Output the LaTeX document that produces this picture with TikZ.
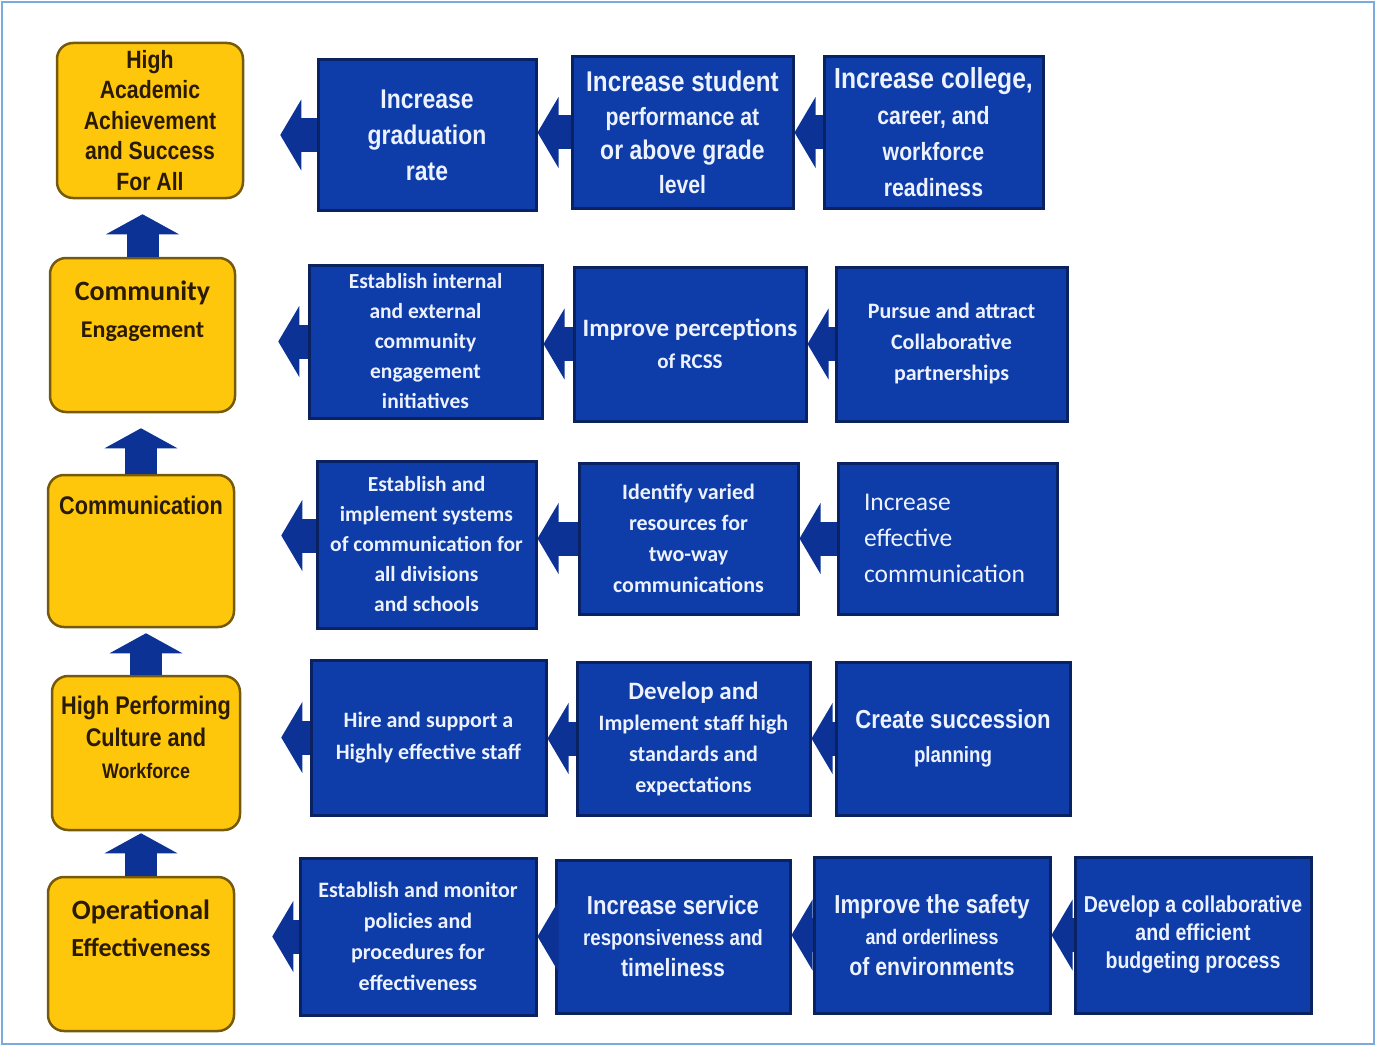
\documentclass[tikz,border=0pt]{standalone}
\usepackage{fontspec}
\setmainfont{Liberation Sans}
\newfontfamily\narrowfont[FakeStretch=0.85]{Liberation Sans}
\newfontfamily\calfont{Carlito}
\usepackage{xcolor}
\usepackage{tikz}
\usetikzlibrary{arrows.meta, positioning}

\definecolor{boxblue}{RGB}{14,60,168}
\definecolor{boxedge}{RGB}{10,34,98}
\definecolor{boxink}{RGB}{236,242,255}
\definecolor{arrowblue}{RGB}{12,50,150}
\definecolor{goalyellow}{RGB}{255,199,12}
\definecolor{goaledge}{RGB}{118,90,12}
\definecolor{goalink}{RGB}{42,26,0}
\definecolor{framec}{RGB}{122,170,222}

\newcommand{\fsz}[2]{\fontsize{#1}{#2}\selectfont}

\begin{document}
\begin{tikzpicture}[
    x=1pt, y=-1pt,
    goal/.style={rectangle, rounded corners=16pt, draw=goaledge, line width=2.5pt, fill=goalyellow},
    goaltxt/.style={align=center, text=goalink, inner sep=0pt},
    obj/.style={rectangle, draw=boxedge, line width=3pt, fill=boxblue, align=center, text=boxink, inner sep=4pt},
    flow/.style={line width=34pt, draw=arrowblue, -{Triangle[length=21pt, width=70pt]}},
    rise/.style={line width=32pt, draw=arrowblue, -{Triangle[length=20pt, width=72pt]}}
]
\useasboundingbox (0,0) rectangle (1376,1046);
\draw[framec, line width=1.5pt] (2,2) rectangle (1374,1044);

% Goal column
\node[goal, minimum width=186pt, minimum height=155pt] (g1) at (150,120.5) {};
\node[goal, minimum width=185pt, minimum height=154pt] (g2) at (142.5,335) {};
\node[goal, minimum width=186pt, minimum height=152pt] (g3) at (141,551) {};
\node[goal, minimum width=188pt, minimum height=154pt] (g4) at (146,753) {};
\node[goal, minimum width=186pt, minimum height=154pt] (g5) at (141,954) {};

\node[goaltxt, font=\narrowfont\bfseries\fsz{25}{30.5}] at (g1) {High\\Academic\\Achievement\\and Success\\For All};
\node[goaltxt, font=\calfont\bfseries\fsz{28}{37}, below=24pt of g2.north] {Community\\{\fsz{24}{37}Engagement}};
\node[goaltxt, font=\narrowfont\bfseries\fsz{25.5}{31}, below=22pt of g3.north] {Communication};
\node[goaltxt, font=\narrowfont\bfseries\fsz{25.5}{32}, below=21pt of g4.north] {High Performing\\Culture and\\{\fsz{21}{32}Workforce}};
\node[goaltxt, font=\calfont\bfseries\fsz{28}{37}, below=24pt of g5.north] {Operational\\{\fsz{26}{37}Effectiveness}};

% Row 1 - academic achievement
\node[obj, minimum width=218pt, minimum height=150pt, font=\narrowfont\bfseries\fsz{27}{36}] (a1) at (427,135) {Increase\\graduation\\rate};
\node[obj, minimum width=221pt, minimum height=151pt, font=\narrowfont\bfseries\fsz{25}{34}] (a2) at (682.5,132.5) {{\fsz{28.5}{34}Increase student}\\performance at\\{\fsz{27}{34}or above grade}\\level};
\node[obj, minimum width=219pt, minimum height=151pt, font=\narrowfont\bfseries\fsz{25}{36}] (a3) at (933.5,132.5) {{\fsz{29}{36}Increase college,}\\career, and\\workforce\\readiness};

% Row 2 - community engagement
\node[obj, minimum width=233pt, minimum height=153pt, font=\calfont\bfseries\fsz{21.5}{30}] (b1) at (425.5,341.5) {Establish internal\\and external\\community\\engagement\\initiatives};
\node[obj, minimum width=232pt, minimum height=154pt, font=\calfont\bfseries\fsz{25}{32}] (b2) at (690,344) {Improve perceptions\\{\fsz{21}{32}of RCSS}};
\node[obj, minimum width=231pt, minimum height=154pt, font=\calfont\bfseries\fsz{22}{31}] (b3) at (951.5,344) {Pursue and attract\\Collaborative\\partnerships};

% Row 3 - communication
\node[obj, minimum width=219pt, minimum height=167pt, font=\calfont\bfseries\fsz{21.5}{30}] (c1) at (426.5,544.5) {Establish and\\implement systems\\of communication for\\all divisions\\and schools};
\node[obj, minimum width=219pt, minimum height=151pt, font=\calfont\bfseries\fsz{22}{31}] (c2) at (688.5,538.5) {Identify varied\\resources for\\two-way\\communications};
\node[obj, minimum width=219pt, minimum height=151pt, text width=167pt, align=left, font=\calfont\fsz{25.5}{36}] (c3) at (947.5,538.5) {Increase\\effective\\communication};

% Row 4 - high performing culture
\node[obj, minimum width=235pt, minimum height=155pt, font=\calfont\bfseries\fsz{22}{32}] (d1) at (428.5,737.5) {Hire and support a\\Highly effective staff};
\node[obj, minimum width=233pt, minimum height=153pt, font=\calfont\bfseries\fsz{22}{31}] (d2) at (693.5,738.5) {{\fsz{25}{31}Develop and}\\Implement staff high\\standards and\\expectations};
\node[obj, minimum width=234pt, minimum height=153pt, font=\narrowfont\bfseries\fsz{26}{34}] (d3) at (953,738.5) {Create succession\\{\fsz{22}{34}planning}};

% Row 5 - operational effectiveness
\node[obj, minimum width=236pt, minimum height=157pt, font=\calfont\bfseries\fsz{22}{31}] (e1) at (418,936.5) {Establish and monitor\\policies and\\procedures for\\effectiveness};
\node[obj, minimum width=234pt, minimum height=153pt, font=\narrowfont\bfseries\fsz{22}{31}] (e2) at (673,936.5) {{\fsz{26}{31}Increase service}\\responsiveness and\\{\fsz{25}{31}timeliness}};
\node[obj, minimum width=236pt, minimum height=156pt, font=\narrowfont\bfseries\fsz{21}{31}] (e3) at (932,935) {{\fsz{26}{31}Improve the safety}\\and orderliness\\{\fsz{25}{31}of environments}};
\node[obj, minimum width=236pt, minimum height=156pt, font=\narrowfont\bfseries\fsz{23}{28}] (e4) at (1193,935) {Develop a collaborative\\and efficient\\budgeting process};

% Up arrows between goals
\draw[rise, shorten >=15pt] (g2.north) -- (g2.north |- g1.south);
\draw[rise, shorten >=15pt] (g3.north) -- (g3.north |- g2.south);
\draw[rise, shorten >=5pt] (g4.north) -- (g4.north |- g3.south);
\draw[rise, shorten >=2pt] (g5.north) -- (g5.north |- g4.south);

% Arrows - row 1
\draw[flow, shorten >=36pt] (a1.west) -- (a1.west -| g1.east);
\draw[flow] (a2.west) -- (a2.west -| a1.east);
\draw[flow] (a3.west) -- (a3.west -| a2.east);

% Arrows - row 2
\draw[flow, shorten >=42pt] (b1.west) -- (b1.west -| g2.east);
\draw[flow] (b2.west) -- (b2.west -| b1.east);
\draw[flow] (b3.west) -- (b3.west -| b2.east);

% Arrows - row 3
\draw[flow, shorten >=46pt] ([yshift=9pt]c1.west) -- ([yshift=9pt]c1.west -| g3.east);
\draw[flow] (c2.west) -- (c2.west -| c1.east);
\draw[flow] (c3.west) -- (c3.west -| c2.east);

% Arrows - row 4
\draw[flow, shorten >=40pt] (d1.west) -- (d1.west -| g4.east);
\draw[flow] (d2.west) -- (d2.west -| d1.east);
\draw[flow] (d3.west) -- (d3.west -| d2.east);

% Arrows - row 5
\draw[flow, shorten >=37pt] (e1.west) -- (e1.west -| g5.east);
\draw[flow] (e2.west) -- (e2.west -| e1.east);
\draw[flow] (e3.west) -- (e3.west -| e2.east);
\draw[flow] (e4.west) -- (e4.west -| e3.east);

\end{tikzpicture}
\end{document}
